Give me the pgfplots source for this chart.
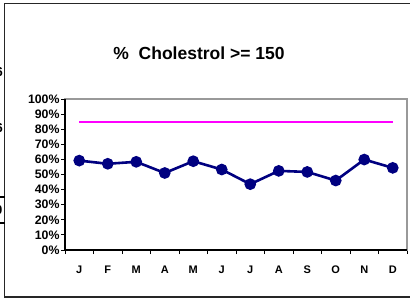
\documentclass[border=0pt]{standalone}
\usepackage{pgfplots}
\pgfplotsset{compat=1.18}
\usepackage{fontspec}
\setmainfont{Liberation Sans}
\definecolor{navyline}{HTML}{000080}
\definecolor{pinkline}{HTML}{FF00FF}
\begin{document}
\begin{tikzpicture}[x=1pt,y=1pt]
\path[use as bounding box] (0,0) rectangle (410,301);
% outer frame
\draw[line width=1.3pt,black!85] (4.5,3) -- (4.5,297.5) -- (412,297.5);
\draw[line width=1.3pt,black!85] (4.5,4) -- (412,4);
% fragments of a neighbouring chart at the left edge
\node[font=\bfseries\fontsize{13}{13}\selectfont,anchor=east,inner sep=0pt] at (3,229) {6};
\node[font=\bfseries\fontsize{13}{13}\selectfont,anchor=east,inner sep=0pt] at (3,173) {6};
\node[font=\bfseries\fontsize{13}{13}\selectfont,anchor=east,inner sep=0pt] at (2.5,91) {0};
\draw[line width=2pt,black] (0,104) -- (4.5,104);
\draw[line width=2pt,black] (0,78) -- (4.5,78);
% title
\node[font=\bfseries\fontsize{17.5}{18}\selectfont] at (199,248) {\%\ \ Cholestrol >= 150};
\begin{axis}[
  at={(65pt,51pt)}, anchor=south west,
  scale only axis, width=342pt, height=151pt,
  xmin=-0.5, xmax=11.5, ymin=0, ymax=1,
  xtick={0,...,11},
  xticklabels={J,F,M,A,M,J,J,A,S,O,N,D},
  minor xtick={-0.5,0.5,...,11.5},
  ytick={0,0.1,...,1.0},
  yticklabels={0\%,10\%,20\%,30\%,40\%,50\%,60\%,70\%,80\%,90\%,100\%},
  tick style={black, line width=1pt},
  major tick length=4pt, minor tick length=4pt,
  tick align=outside,
  xtick pos=bottom, ytick pos=left,
  x tick style={draw=none},
  minor x tick style={draw=black, line width=1pt},
  xticklabel style={font=\bfseries\fontsize{11}{11}\selectfont, yshift=-8pt},
  yticklabel style={font=\bfseries\fontsize{12.3}{12}\selectfont, xshift=2pt},
  axis line style={draw=gray!80, line width=1.6pt},
  clip=false,
]
\addplot[pinkline, line width=1.8pt, no markers] coordinates {
 (0,0.85) (1,0.85) (2,0.85) (3,0.85) (4,0.85) (5,0.85) (6,0.85) (7,0.85) (8,0.85) (9,0.85) (10,0.85) (11,0.85)
};
\addplot[navyline, line width=2.6pt, mark=*, mark size=4.5pt, mark options={fill=navyline, draw=navyline}] coordinates {
 (0,0.592) (1,0.571) (2,0.584) (3,0.510) (4,0.588) (5,0.533) (6,0.436) (7,0.524) (8,0.517) (9,0.460) (10,0.599) (11,0.544)
};
\draw[black, line width=1.4pt] (rel axis cs:0,1) -- (rel axis cs:0,0) -- (rel axis cs:1,0);
\end{axis}
\end{tikzpicture}
\end{document}
